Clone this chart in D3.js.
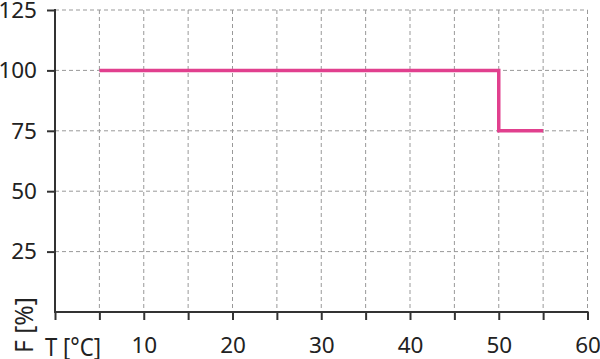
<!DOCTYPE html>
<html>
<head>
<meta charset="utf-8">
<script src="https://cdn.jsdelivr.net/npm/d3@7"></script>
<style>
  body { margin: 0; background: #fff; }
  text { font-family: "Noto Sans", sans-serif; fill: #222; }
</style>
</head>
<body>
<div class="chart"></div>
<script>
// step curve: temperature (T) vs load factor (F)
const temps = [5, 50, 50, 55];
const factors = [100, 100, 75, 75];
const xTickLabels = [10, 20, 30, 40, 50, 60];
const yTickLabels = [25, 50, 75, 100, 125];

const width = 600, height = 359;
const margin = {top: 10, right: 12.5, bottom: 47, left: 55};

const svg = d3.select('.chart').append('svg')
    .attr('width', width)
    .attr('height', height);

const xScale = d3.scaleLinear()
    .domain([0, 60])
    .range([margin.left, width - margin.right]);
const yScale = d3.scaleLinear()
    .domain([0, 125])
    .range([height - margin.bottom, margin.top]);

const xGrid = d3.range(5, 61, 5);

// grid
svg.selectAll('.vgrid')
    .data(xGrid)
    .enter()
    .append('line')
    .attr('class', 'vgrid')
    .attr('x1', d => xScale(d)).attr('x2', d => xScale(d))
    .attr('y1', yScale(125)).attr('y2', yScale(0))
    .attr('stroke', '#999')
    .attr('stroke-width', 1)
    .attr('stroke-dasharray', '4,3');

svg.selectAll('.hgrid')
    .data(yTickLabels)
    .enter()
    .append('line')
    .attr('class', 'hgrid')
    .attr('x1', xScale(0)).attr('x2', xScale(60))
    .attr('y1', d => yScale(d)).attr('y2', d => yScale(d))
    .attr('stroke', '#999')
    .attr('stroke-width', 1)
    .attr('stroke-dasharray', '4,3');

// axes
const xAxis = d3.axisBottom(xScale)
    .tickValues(d3.range(0, 61, 5))
    .tickSize(8)
    .tickFormat(d => xTickLabels.includes(d) ? d : '');
const yAxis = d3.axisLeft(yScale)
    .tickValues(yTickLabels)
    .tickSize(8)
    .tickPadding(10);

const gx = svg.append('g')
    .attr('transform', `translate(0, ${yScale(0)})`)
    .call(xAxis);
const gy = svg.append('g')
    .attr('transform', `translate(${xScale(0)}, 0)`)
    .call(yAxis);

[gx, gy].forEach(g => {
    g.select('.domain').remove();
    g.selectAll('.tick line').attr('stroke', '#333').attr('stroke-width', 2);
    g.selectAll('.tick text')
        .attr('font-size', '22.5px')
        .attr('font-family', '"Noto Sans", sans-serif')
        .attr('fill', '#222');
});
gx.selectAll('.tick text').attr('y', 25);

svg.append('line')
    .attr('x1', xScale(0) - 1).attr('x2', xScale(60) + 1)
    .attr('y1', yScale(0)).attr('y2', yScale(0))
    .attr('stroke', '#333').attr('stroke-width', 2);
svg.append('line')
    .attr('x1', xScale(0)).attr('x2', xScale(0))
    .attr('y1', yScale(125) - 1).attr('y2', yScale(0))
    .attr('stroke', '#333').attr('stroke-width', 2);

// axis titles
svg.append('text')
    .attr('x', 45)
    .attr('y', 356)
    .attr('font-size', '25px')
    .attr('textLength', 56)
    .attr('lengthAdjust', 'spacingAndGlyphs')
    .text('T [°C]');

svg.append('text')
    .attr('transform', 'translate(32.5, 353) rotate(-90)')
    .attr('font-size', '25px')
    .attr('textLength', 56)
    .attr('lengthAdjust', 'spacingAndGlyphs')
    .text('F [%]');

// data line
const line = d3.line()
    .x((d, i) => xScale(temps[i]))
    .y(d => yScale(d));

svg.append('path')
    .datum(factors)
    .attr('d', line)
    .attr('fill', 'none')
    .attr('stroke', '#e1408e')
    .attr('stroke-width', 3.5);
</script>
</body>
</html>
